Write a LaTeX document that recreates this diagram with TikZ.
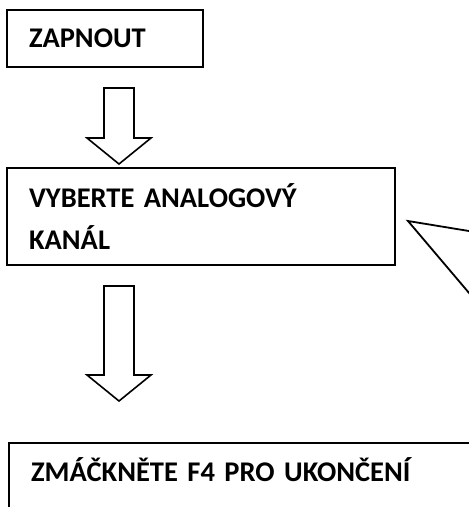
\documentclass[tikz,border=0pt]{standalone}
\usepackage{fontspec}
\setmainfont{Carlito}[WordSpace=0.75]
\usetikzlibrary{positioning}

\tikzset{
	stepbox/.style={draw, line width=2.2pt, anchor=north west, align=left,
		inner xsep=22pt, font=\fontsize{28.5}{42}\selectfont\bfseries},
	blockarr/.style={draw, line width=1.6pt, line join=miter},
	pointer/.style={draw, line width=1.8pt, line join=miter}
}

\begin{document}
\begin{tikzpicture}[x=1pt,y=-1pt]
	\useasboundingbox (0,0) rectangle (469,507);
	\clip (0,0) rectangle (469,507);
	% boxes
	\node[stepbox, minimum width=196pt, minimum height=57pt, text width=152pt] (zapnout) at (6,9) {ZAPNOUT};
	\node[stepbox, minimum width=388pt, minimum height=97pt, text width=344pt] (kanal) at (6,167) {VYBERTE ANALOGOVÝ\\KANÁL};
	\node[stepbox, minimum width=480pt, inner ysep=14pt, text height=24pt, text depth=40pt, text width=436pt] (konec) at (8,442) {ZMÁČKNĚTE F4 PRO UKONČENÍ};
	% block arrows
	\coordinate (a1) at (119,88);
	\coordinate (a2) at (119,286);
	\draw[blockarr] (a1) ++(-15,0) -- ++(30,0) -- ++(0,50) -- ++(17,0) -- ++(-32,26) -- ++(-32,-26) -- ++(17,0) -- cycle;
	\draw[blockarr] (a2) ++(-15,0) -- ++(30,0) -- ++(0,89) -- ++(17,0) -- ++(-32,26) -- ++(-32,-26) -- ++(17,0) -- cycle;
	% callout pointer
	\coordinate (tip) at (408,221);
	\draw[pointer] (475,232) -- (tip) -- (475,300);
\end{tikzpicture}
\end{document}
